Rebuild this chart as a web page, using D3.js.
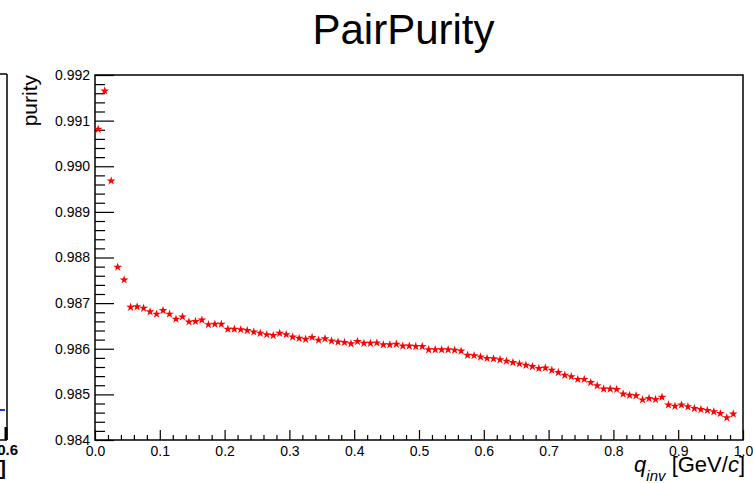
<!DOCTYPE html>
<html>
<head>
<meta charset="utf-8">
<script src="https://cdn.jsdelivr.net/npm/d3@7"></script>
<style>
  html, body { margin: 0; padding: 0; background: #fff; }
  svg { display: block; }
  text { font-family: "Liberation Sans", Arial, Helvetica, sans-serif; }
</style>
</head>
<body>
<script>
// ---------- data ----------
const qinv = [
  0.005, 0.015, 0.025, 0.035, 0.045, 0.055, 0.065, 0.075, 0.085, 0.095,
  0.105, 0.115, 0.125, 0.135, 0.145, 0.155, 0.165, 0.175, 0.185, 0.195,
  0.205, 0.215, 0.225, 0.235, 0.245, 0.255, 0.265, 0.275, 0.285, 0.295,
  0.305, 0.315, 0.325, 0.335, 0.345, 0.355, 0.365, 0.375, 0.385, 0.395,
  0.405, 0.415, 0.425, 0.435, 0.445, 0.455, 0.465, 0.475, 0.485, 0.495,
  0.505, 0.515, 0.525, 0.535, 0.545, 0.555, 0.565, 0.575, 0.585, 0.595,
  0.605, 0.615, 0.625, 0.635, 0.645, 0.655, 0.665, 0.675, 0.685, 0.695,
  0.705, 0.715, 0.725, 0.735, 0.745, 0.755, 0.765, 0.775, 0.785, 0.795,
  0.805, 0.815, 0.825, 0.835, 0.845, 0.855, 0.865, 0.875, 0.885, 0.895,
  0.905, 0.915, 0.925, 0.935, 0.945, 0.955, 0.965, 0.975, 0.985
];
const purity = [
  0.99081, 0.99165, 0.98968, 0.98779, 0.98751, 0.98691, 0.98692, 0.98689, 0.98681, 0.98676,
  0.98684, 0.98676, 0.98665, 0.98670, 0.98659, 0.98660, 0.98663, 0.98653, 0.98654, 0.98654,
  0.98643, 0.98643, 0.98642, 0.98640, 0.98637, 0.98634, 0.98631, 0.98629, 0.98634, 0.98631,
  0.98626, 0.98623, 0.98621, 0.98625, 0.98619, 0.98622, 0.98617, 0.98615, 0.98614, 0.98611,
  0.98616, 0.98612, 0.98612, 0.98613, 0.98609, 0.98609, 0.98610, 0.98606, 0.98606, 0.98605,
  0.98605, 0.98598, 0.98598, 0.98598, 0.98598, 0.98597, 0.98595, 0.98586, 0.98585, 0.98582,
  0.98579, 0.98578, 0.98576, 0.98573, 0.98570, 0.98567, 0.98564, 0.98561, 0.98557, 0.98558,
  0.98553, 0.98548, 0.98542, 0.98539, 0.98533, 0.98533, 0.98526, 0.98519, 0.98512, 0.98512,
  0.98511, 0.98501, 0.98498, 0.98497, 0.98488, 0.98491, 0.98489, 0.98494, 0.98477, 0.98474,
  0.98477, 0.98473, 0.98469, 0.98467, 0.98465, 0.98462, 0.98458, 0.98449, 0.98457
];
const xMajorTicks = [0.0, 0.1, 0.2, 0.3, 0.4, 0.5, 0.6, 0.7, 0.8, 0.9, 1.0];
const yMajorTicks = [0.984, 0.985, 0.986, 0.987, 0.988, 0.989, 0.990, 0.991, 0.992];
const xDomain = [0, 1];
const yDomain = [0.984, 0.992];
const titleText = "PairPurity";
const yTitle = "purity";

// ---------- layout ----------
const W = 753, H = 483;
const L = 95, R = 743, T = 75, B = 440;

const svg = d3.select("body").append("svg")
  .attr("width", W).attr("height", H)
  .attr("viewBox", `0 0 ${W} ${H}`);

const x = d3.scaleLinear().domain(xDomain).range([L, R]);
const y = d3.scaleLinear().domain(yDomain).range([B, T]);

// minor ticks derived from majors (5 subdivisions)
function minors(majors, n) {
  const out = [];
  for (let i = 0; i < majors.length - 1; i++) {
    const a = majors[i], b = majors[i + 1];
    for (let k = 1; k < n; k++) out.push(a + (b - a) * k / n);
  }
  return out;
}

// ---------- neighbouring pad fragment on the left edge ----------
const frag = svg.append("g").attr("stroke", "#000").attr("fill", "none");
frag.append("line").attr("x1", 7).attr("x2", 7).attr("y1", 74).attr("y2", 440).attr("stroke-width", 1.5);
frag.append("line").attr("x1", 0).attr("x2", 7).attr("y1", 74).attr("y2", 74).attr("stroke-width", 1.5);
frag.append("line").attr("x1", 0).attr("x2", 7).attr("y1", 440).attr("y2", 440).attr("stroke-width", 1.5);
frag.append("line").attr("x1", 6).attr("x2", 6).attr("y1", 427).attr("y2", 440).attr("stroke-width", 3);
svg.append("line").attr("x1", 0).attr("x2", 5).attr("y1", 410).attr("y2", 410)
  .attr("stroke", "#1f3fd0").attr("stroke-width", 2);
svg.append("text").attr("x", 18).attr("y", 455).attr("text-anchor", "end")
  .attr("font-size", 15).attr("font-weight", "bold").text("0.6");
svg.append("text").attr("x", 6).attr("y", 475).attr("text-anchor", "end")
  .attr("font-size", 20).attr("font-weight", "bold").text("]");

// ---------- title ----------
svg.append("text").attr("x", 403.5).attr("y", 44).attr("text-anchor", "middle")
  .attr("font-size", 42).attr("fill", "#000").text(titleText);

// ---------- axes ----------
const yAxisMajor = d3.axisLeft(y).tickValues(yMajorTicks).tickSize(-19).tickSizeOuter(0)
  .tickPadding(5).tickFormat(d3.format(".3f"));
const yAxisMinor = d3.axisLeft(y).tickValues(minors(yMajorTicks, 5)).tickSize(-10).tickSizeOuter(0)
  .tickFormat("");
const xAxisMajor = d3.axisBottom(x).tickValues(xMajorTicks).tickSize(-10).tickSizeOuter(0)
  .tickPadding(6).tickFormat(d3.format(".1f"));
const xAxisMinor = d3.axisBottom(x).tickValues(minors(xMajorTicks, 5)).tickSize(-5).tickSizeOuter(0)
  .tickFormat("");

function styleAxis(g) {
  g.selectAll("path.domain").remove();
  g.selectAll("line").attr("stroke", "#000").attr("stroke-width", 1.2);
  g.selectAll("text").attr("font-size", 14).attr("fill", "#000")
    .attr("font-family", "'Liberation Sans', Arial, Helvetica, sans-serif");
}
svg.append("g").attr("transform", `translate(${L},0)`).call(yAxisMinor).call(styleAxis);
svg.append("g").attr("transform", `translate(${L},0)`).call(yAxisMajor).call(styleAxis);
svg.append("g").attr("transform", `translate(0,${B})`).call(xAxisMinor).call(styleAxis);
svg.append("g").attr("transform", `translate(0,${B})`).call(xAxisMajor).call(styleAxis);

// frame
svg.append("rect").attr("x", L).attr("y", T).attr("width", R - L).attr("height", B - T)
  .attr("fill", "none").attr("stroke", "#000").attr("stroke-width", 1.5);

// ---------- axis titles ----------
svg.append("text")
  .attr("transform", `translate(37,${T}) rotate(-90)`)
  .attr("text-anchor", "end").attr("font-size", 21).attr("fill", "#000")
  .text(yTitle);

const xt = svg.append("text").attr("x", 745).attr("y", 472)
  .attr("text-anchor", "end").attr("font-size", 22).attr("fill", "#000");
xt.append("tspan").attr("font-style", "italic").text("q");
xt.append("tspan").attr("font-style", "italic").attr("font-size", 15).attr("dy", 9).text("inv");
xt.append("tspan").attr("dy", -9).text("\u00a0[GeV/");
xt.append("tspan").attr("font-style", "italic").text("c");
xt.append("tspan").text("]");

// ---------- data points ----------
const star = d3.symbol().type(d3.symbolStar).size(24);
svg.append("g").selectAll("path")
  .data(qinv.map((q, i) => [q, purity[i]]))
  .join("path")
  .attr("transform", d => `translate(${x(d[0])},${y(d[1])})`)
  .attr("d", star)
  .attr("fill", "#ff0000");
</script>
</body>
</html>
